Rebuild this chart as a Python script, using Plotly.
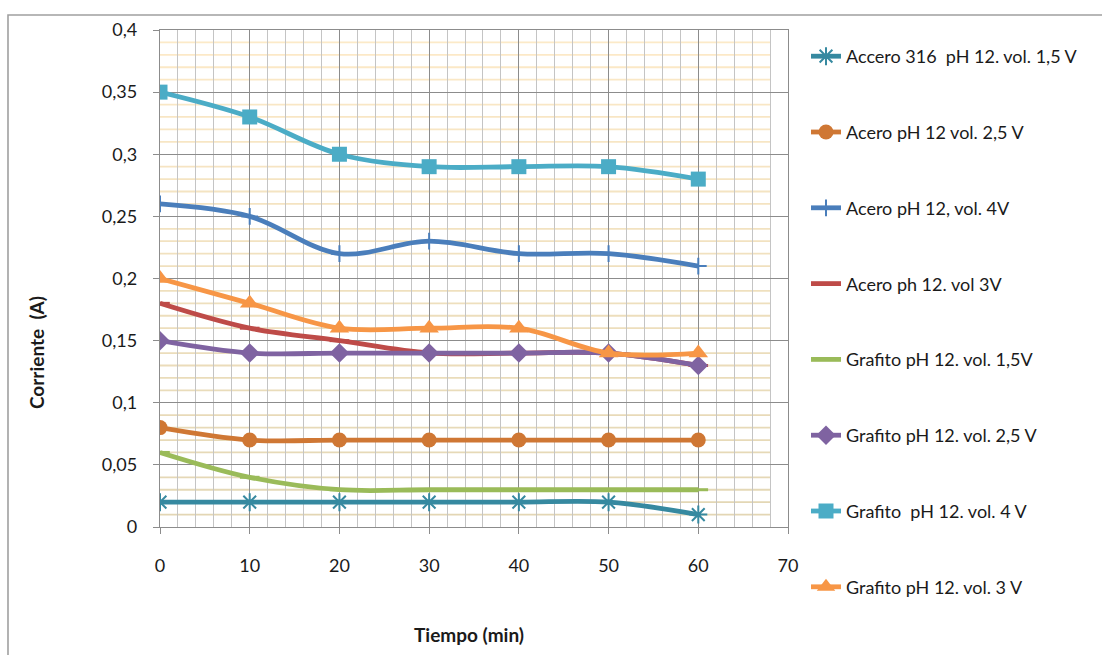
import plotly.graph_objects as go

# Time axis (minutes) and measured current (A) per electrode / voltage setting
tiempo = [0, 10, 20, 30, 40, 50, 60]

acero316_15v = [0.02, 0.02, 0.02, 0.02, 0.02, 0.02, 0.01]
acero_25v = [0.08, 0.07, 0.07, 0.07, 0.07, 0.07, 0.07]
acero_4v = [0.26, 0.25, 0.22, 0.23, 0.22, 0.22, 0.21]
acero_3v = [0.18, 0.16, 0.15, 0.14, 0.14, 0.14, 0.13]
grafito_15v = [0.06, 0.04, 0.03, 0.03, 0.03, 0.03, 0.03]
grafito_25v = [0.15, 0.14, 0.14, 0.14, 0.14, 0.14, 0.13]
grafito_4v = [0.35, 0.33, 0.30, 0.29, 0.29, 0.29, 0.28]
grafito_3v = [0.20, 0.18, 0.16, 0.16, 0.16, 0.14, 0.14]

series_names = [
    "Accero 316  pH 12. vol. 1,5 V",
    "Acero pH 12 vol. 2,5 V",
    "Acero pH 12, vol. 4V",
    "Acero ph 12. vol 3V",
    "Grafito pH 12. vol. 1,5V",
    "Grafito pH 12. vol. 2,5 V",
    "Grafito  pH 12. vol. 4 V",
    "Grafito pH 12. vol. 3 V",
]
series_values = [acero316_15v, acero_25v, acero_4v, acero_3v,
                 grafito_15v, grafito_25v, grafito_4v, grafito_3v]

# Styling for each series: colour, marker symbol, marker size, marker outline width
styles = [
    ("#3689A0", "asterisk-open", 15, 2),
    ("#CF7734", "circle", 15, 0),
    ("#4A7EBB", "cross-thin-open", 12, 2),
    ("#BE4B48", "line-ew-open", 14, 3),
    ("#9ABB59", "line-ew-open", 14, 3),
    ("#7F63A1", "diamond", 15, 0),
    ("#4BACC6", "square", 15, 0),
    ("#F79646", "triangle-up", 17, 0),
]

FONT = "Lato"

fig = go.Figure()

for i, (name, vals, (col, sym, size, mlw)) in enumerate(zip(series_names, series_values, styles)):
    fig.add_trace(go.Scatter(
        x=tiempo, y=vals, name=name, mode="lines+markers",
        line=dict(color=col, width=4.8, shape="spline", smoothing=1),
        marker=dict(symbol=sym, size=size, color=col,
                    line=dict(color=col, width=mlw)),
        legendgroup=f"g{i}",
    ))

# Fine horizontal gridlines every 0.01 A (skipping the 0.05 major lines)
shapes = []
minor_levels = [k / 100 for k in range(1, 40) if k % 5 != 0]
bottom_rgb = (226, 214, 180)
top_rgb = (253, 234, 200)
for lv in minor_levels:
    t = lv / 0.4
    r, g, b = [round(bc + (tc - bc) * t) for bc, tc in zip(bottom_rgb, top_rgb)]
    shapes.append(dict(type="line", xref="x", yref="y", x0=0, x1=68, y0=lv, y1=lv,
                       line=dict(color=f"rgb({r},{g},{b})", width=1.8), layer="below"))

# Chart-area frame
shapes.append(dict(type="rect", xref="paper", yref="paper",
                   x0=(8 - 160) / 628, x1=2.0, y0=-1.0, y1=(527 - 15) / 497,
                   line=dict(color="#A0A0A0", width=1.6), layer="below"))

fig.update_layout(
    width=1102, height=655,
    margin=dict(l=160, r=314, t=30, b=128),
    paper_bgcolor="white", plot_bgcolor="white",
    separators=",.",
    font=dict(family=FONT, size=18, color="#1a1a1a"),
    shapes=shapes,
    showlegend=True,
    legend=dict(x=(806 - 160) / 628, xanchor="left", y=(527 - 38) / 497, yanchor="top",
                font=dict(family=FONT, size=18, color="#1a1a1a"),
                tracegroupgap=49.4, traceorder="grouped", bgcolor="rgba(0,0,0,0)",
                itemwidth=30, maxheight=640),
    annotations=[
        dict(text="<b>Corriente  (A)</b>", xref="paper", yref="paper",
             x=(36 - 160) / 628, y=(527 - 352) / 497, textangle=-90, showarrow=False,
             font=dict(family=FONT, size=19, color="#1a1a1a"),
             xanchor="center", yanchor="middle"),
        dict(text="<b>Tiempo (min)</b>", xref="paper", yref="paper",
             x=(469 - 160) / 628, y=(527 - 634) / 497, showarrow=False,
             font=dict(family=FONT, size=19, color="#1a1a1a"),
             xanchor="center", yanchor="middle"),
    ],
)

fig.update_xaxes(
    range=[0, 70], tickmode="linear", tick0=0, dtick=10,
    showgrid=True, gridcolor="#8C8C8C", gridwidth=1.4,
    minor=dict(dtick=2, showgrid=True, gridcolor="#C4C4C4", gridwidth=1.4),
    showline=True, linecolor="#8C8C8C", linewidth=1.4, mirror=True,
    ticks="outside", ticklen=6, tickcolor="#8C8C8C", tickwidth=1.4,
    ticklabelstandoff=16, zeroline=False,
    tickfont=dict(family=FONT, size=18, color="#1a1a1a"),
)
fig.update_yaxes(
    range=[0, 0.4], tickmode="linear", tick0=0, dtick=0.05,
    showgrid=True, gridcolor="#8C8C8C", gridwidth=1.4,
    showline=True, linecolor="#8C8C8C", linewidth=1.4, mirror=True,
    ticks="outside", ticklen=6, tickcolor="#8C8C8C", tickwidth=1.4,
    ticklabelstandoff=12, zeroline=False,
    tickfont=dict(family=FONT, size=18, color="#1a1a1a"),
)

fig.write_html("out.html")
